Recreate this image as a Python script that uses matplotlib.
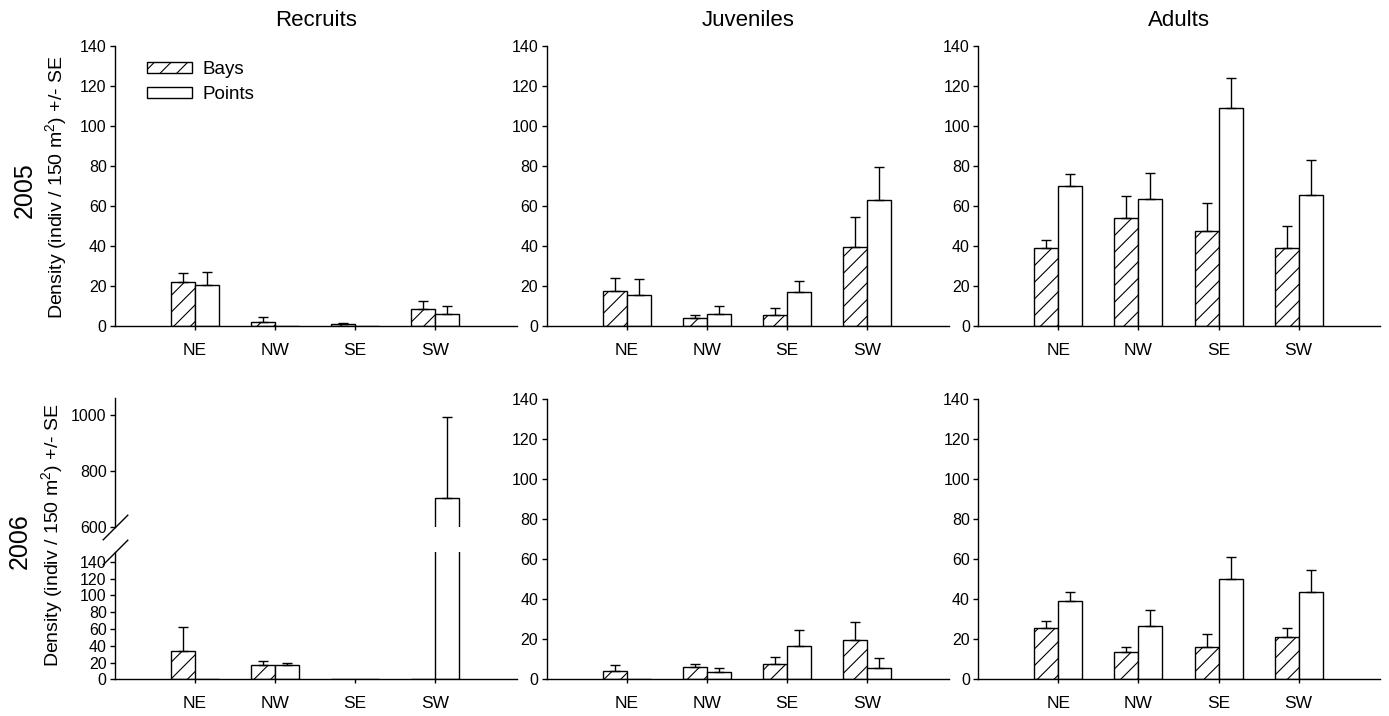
import numpy as np
import matplotlib
matplotlib.use("Agg")
import matplotlib.pyplot as plt
from matplotlib.patches import Patch

plt.rcParams['font.family'] = ['Liberation Sans', 'DejaVu Sans']
plt.rcParams['hatch.linewidth'] = 0.8

sites = ["NE", "NW", "SE", "SW"]
stages = ["Recruits", "Juveniles", "Adults"]
years = ["2005", "2006"]

# mean density and SE (indiv / 150 m2)
rec05_bays = [22.0, 2.2, 1.0, 8.5]
rec05_bays_se = [4.7, 2.3, 0.5, 3.8]
rec05_points = [20.5, 0.0, 0.0, 6.0]
rec05_points_se = [6.3, 0.0, 0.0, 4.2]

juv05_bays = [17.5, 3.8, 5.5, 39.7]
juv05_bays_se = [6.5, 1.7, 3.3, 14.5]
juv05_points = [15.7, 6.0, 17.0, 62.8]
juv05_points_se = [7.8, 4.2, 5.3, 16.7]

adu05_bays = [38.8, 53.7, 47.2, 38.8]
adu05_bays_se = [4.0, 11.0, 14.1, 10.9]
adu05_points = [69.7, 63.3, 108.7, 65.2]
adu05_points_se = [6.0, 13.2, 15.0, 17.5]

rec06_bays = [34.1, 16.7, 0.5, 0.0]
rec06_bays_se = [27.8, 5.5, 0.0, 0.0]
rec06_points = [0.0, 17.0, 0.0, 704.0]
rec06_points_se = [0.0, 2.4, 0.0, 288.0]

juv06_bays = [4.0, 6.3, 7.8, 19.5]
juv06_bays_se = [3.2, 1.2, 3.2, 9.0]
juv06_points = [0.0, 3.8, 16.5, 5.5]
juv06_points_se = [0.0, 1.7, 8.3, 5.0]

adu06_bays = [25.8, 13.5, 16.0, 21.0]
adu06_bays_se = [3.5, 2.5, 6.6, 4.5]
adu06_points = [39.1, 26.5, 50.1, 43.5]
adu06_points_se = [4.5, 8.3, 10.9, 11.3]

W, H = 1389, 716
fig = plt.figure(figsize=(W / 100, H / 100), dpi=100)


def px_axes(left, top, right, bottom):
    return fig.add_axes([left / W, 1 - bottom / H, (right - left) / W, (bottom - top) / H])


def draw_pair(ax, bays, bays_se, points, points_se):
    x = np.arange(1, len(sites) + 1)
    w = 0.3
    ax.bar(x - w / 2, bays, w, color='white', edgecolor='black', hatch='//', linewidth=1.0, label='Bays')
    ax.bar(x + w / 2, points, w, color='white', edgecolor='black', linewidth=1.0, label='Points')
    for xs, vals, se in [(x - w / 2, bays, bays_se), (x + w / 2, points, points_se)]:
        vals = np.array(vals)
        se = np.array(se)
        keep = se > 0
        ax.errorbar(xs[keep], vals[keep], yerr=[np.zeros(keep.sum()), se[keep]], fmt='none',
                    ecolor='black', elinewidth=1.0, capsize=3.3, capthick=1.0)


def style(ax, show_x=True):
    ax.set_xlim(0, 5.02)
    ax.spines['top'].set_visible(False)
    ax.spines['right'].set_visible(False)
    for s in ax.spines.values():
        s.set_linewidth(1.0)
    ax.tick_params(axis='y', direction='out', length=3.6, width=1.0, pad=2.4, labelsize=11.5)
    if show_x:
        ax.set_xticks(np.arange(1, len(sites) + 1), sites)
        ax.tick_params(axis='x', direction='out', length=3, width=1.0, pad=9, labelsize=12.5)
    else:
        ax.set_xticks([])
        ax.spines['bottom'].set_visible(False)


lefts = [115, 546.7, 978.3]
panel_w = 402
data05 = [(rec05_bays, rec05_bays_se, rec05_points, rec05_points_se),
          (juv05_bays, juv05_bays_se, juv05_points, juv05_points_se),
          (adu05_bays, adu05_bays_se, adu05_points, adu05_points_se)]
data06 = [(rec06_bays, rec06_bays_se, rec06_points, rec06_points_se),
          (juv06_bays, juv06_bays_se, juv06_points, juv06_points_se),
          (adu06_bays, adu06_bays_se, adu06_points, adu06_points_se)]

# 2005 row
for i, left in enumerate(lefts):
    ax = px_axes(left, 45.7, left + panel_w, 326)
    draw_pair(ax, *data05[i])
    ax.set_ylim(0, 140)
    ax.set_yticks(np.arange(0, 141, 20))
    style(ax)
    if i == 0:
        handles = [Patch(facecolor='white', edgecolor='black', hatch='//', linewidth=1.0),
                   Patch(facecolor='white', edgecolor='black', linewidth=1.0)]
        ax.legend(handles, ['Bays', 'Points'], loc='center left', bbox_to_anchor=(0.079, 0.870),
                  frameon=False, fontsize=13.5, handlelength=2.4, handleheight=0.55,
                  handletextpad=0.55, borderpad=0, borderaxespad=0, labelspacing=0.45)
    fig.text((left + panel_w / 2) / W, 1 - 20 / H, stages[i], ha='center', va='center', fontsize=16)

# 2006 row, recruits with a broken y axis
ax_lo = px_axes(115, 551.7, 115 + panel_w, 679.3)
ax_hi = px_axes(115, 398.3, 115 + panel_w, 526.7)
for ax in (ax_lo, ax_hi):
    draw_pair(ax, *data06[0])
ax_lo.set_ylim(0, 152)
ax_lo.set_yticks(np.arange(0, 141, 20))
style(ax_lo)
ax_hi.set_ylim(600, 1060)
ax_hi.set_yticks([600, 800, 1000])
style(ax_hi, show_x=False)
brk = dict(marker=[(-1, -1), (1, 1)], markersize=18.4, linestyle='none', color='black',
           mec='black', mew=1.0, clip_on=False)
ax_hi.plot([0], [0], transform=ax_hi.transAxes, **brk)
ax_lo.plot([0], [1], transform=ax_lo.transAxes, **brk)

for i in (1, 2):
    left = lefts[i]
    ax = px_axes(left, 399, left + panel_w, 679.3)
    draw_pair(ax, *data06[i])
    ax.set_ylim(0, 140)
    ax.set_yticks(np.arange(0, 141, 20))
    style(ax)

# row labels
ylab = r'Density (indiv / 150 m$\mathregular{^2}$) +/- SE'
fig.text(25 / W, 1 - 190 / H, years[0], rotation=90, ha='center', va='center', fontsize=18)
fig.text(56 / W, 1 - 187 / H, ylab, rotation=90, ha='center', va='center', fontsize=14)
fig.text(20 / W, 1 - 541 / H, years[1], rotation=90, ha='center', va='center', fontsize=18)
fig.text(52 / W, 1 - 535 / H, ylab, rotation=90, ha='center', va='center', fontsize=14)

fig.savefig("out.png", dpi=100)
